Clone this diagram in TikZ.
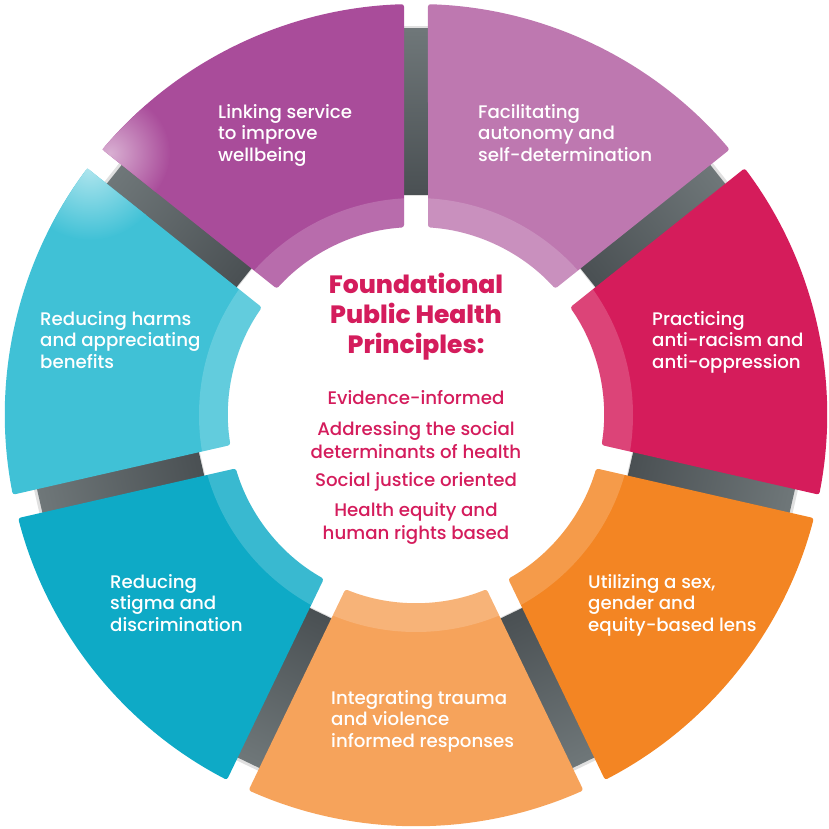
\documentclass[tikz,border=0pt]{standalone}
\usepackage{fontspec}
\setmainfont{Poppins}[UprightFont=* Medium, BoldFont=* ExtraBold]
\definecolor{cPurple}{HTML}{A94C9A}
\definecolor{cLilac}{HTML}{BE78B0}
\definecolor{cMagenta}{HTML}{D51C5B}
\definecolor{cOrange}{HTML}{F38523}
\definecolor{cLtOrange}{HTML}{F6A35B}
\definecolor{cTeal}{HTML}{0EAAC6}
\definecolor{cCyan}{HTML}{40C1D6}
\definecolor{cText}{HTML}{D41C5C}
\definecolor{barDark}{HTML}{4A5053}
\definecolor{barLight}{HTML}{6F7779}
\newcommand\segpath[2]{(#1+1.673:411pt) arc[start angle=#1+1.673, end angle=#2-1.673, radius=411pt] -- (#2-3.66:188pt) arc[start angle=#2-3.66, end angle=#1+3.66, radius=188pt] -- cycle}
\tikzset{
  segtext/.style={text=white, anchor=north west, inner sep=0pt, align=left,
    font=\fontsize{18.2}{21.5}\selectfont},
  titletext/.style={text=cText, inner sep=0pt, align=center,
    font=\fontsize{25}{30}\selectfont\bfseries},
  itemtext/.style={text=cText, inner sep=0pt, align=center,
    font=\fontsize{18.2}{23}\selectfont},
  segfill/.style={rounded corners=2.5pt}
}
\begin{document}
\begin{tikzpicture}[x=1pt,y=1pt]
\useasboundingbox (-416,-414) rectangle (413,415);
% grey connector bars in the gaps
\foreach \g in {90,38.571,-12.857,-64.286,-115.714,-167.143,141.429}{
  \begin{scope}[transform canvas={rotate=\g}]
    \fill[black, opacity=0.12] (219pt,-14pt) rectangle (389pt,14pt);
    \shade[left color=barDark, right color=barLight] (220pt,-13pt) rectangle (386pt,13pt);
  \end{scope}
}
% segments
\foreach \a/\b/\c in {38.571/90/cLilac, -12.857/38.571/cMagenta, -64.286/-12.857/cOrange,
  -115.714/-64.286/cLtOrange, -167.143/-115.714/cTeal, 141.429/192.857/cCyan, 90/141.429/cPurple}{
  \fill[\c, segfill] \segpath{\a}{\b};
}
% glows
\begin{scope}
  \clip \segpath{90}{141.429};
  \shade[inner color=cPurple!45!white, outer color=cPurple] (-306,262) circle[radius=60pt];
\end{scope}
\begin{scope}
  \clip \segpath{141.429}{192.857};
  \shade[inner color=cCyan!40!white, outer color=cCyan] (-326,250) circle[radius=75pt];
\end{scope}
% lighter inner band
\foreach \a/\b in {38.571/90, -12.857/38.571, -64.286/-12.857, -115.714/-64.286,
  -167.143/-115.714, 141.429/192.857, 90/141.429}{
  \begin{scope}
    \clip \segpath{\a}{\b};
    \fill[white, opacity=0.18] (0,0) circle[radius=217pt];
  \end{scope}
}
% segment labels
\node[segtext] (purple) at (-198,311) {Linking service\\to improve\\wellbeing};
\node[segtext] (lilac) at (62,311) {Facilitating\\autonomy and\\self-determination};
\node[segtext] (magenta) at (236,104) {Practicing\\anti-racism and\\anti-oppression};
\node[segtext] (orange) at (172,-159) {Utilizing a sex,\\gender and\\equity-based lens};
\node[segtext] (ltorange) at (-85,-275) {Integrating trauma\\and violence\\informed responses};
\node[segtext] (teal) at (-306,-159) {Reducing\\stigma and\\discrimination};
\node[segtext] (cyan) at (-376,104) {Reducing harms\\and appreciating\\benefits};
% centre
\node[titletext] (title) at (0,98) {Foundational\\Public Health\\Principles:};
\node[itemtext] (i1) at (0,17) {Evidence-informed};
\node[itemtext] (i2) at (0,-25.5) {Addressing the social\\determinants of health};
\node[itemtext] (i3) at (0,-67) {Social justice oriented};
\node[itemtext] (i4) at (0,-108.5) {Health equity and\\human rights based};
\end{tikzpicture}
\end{document}
